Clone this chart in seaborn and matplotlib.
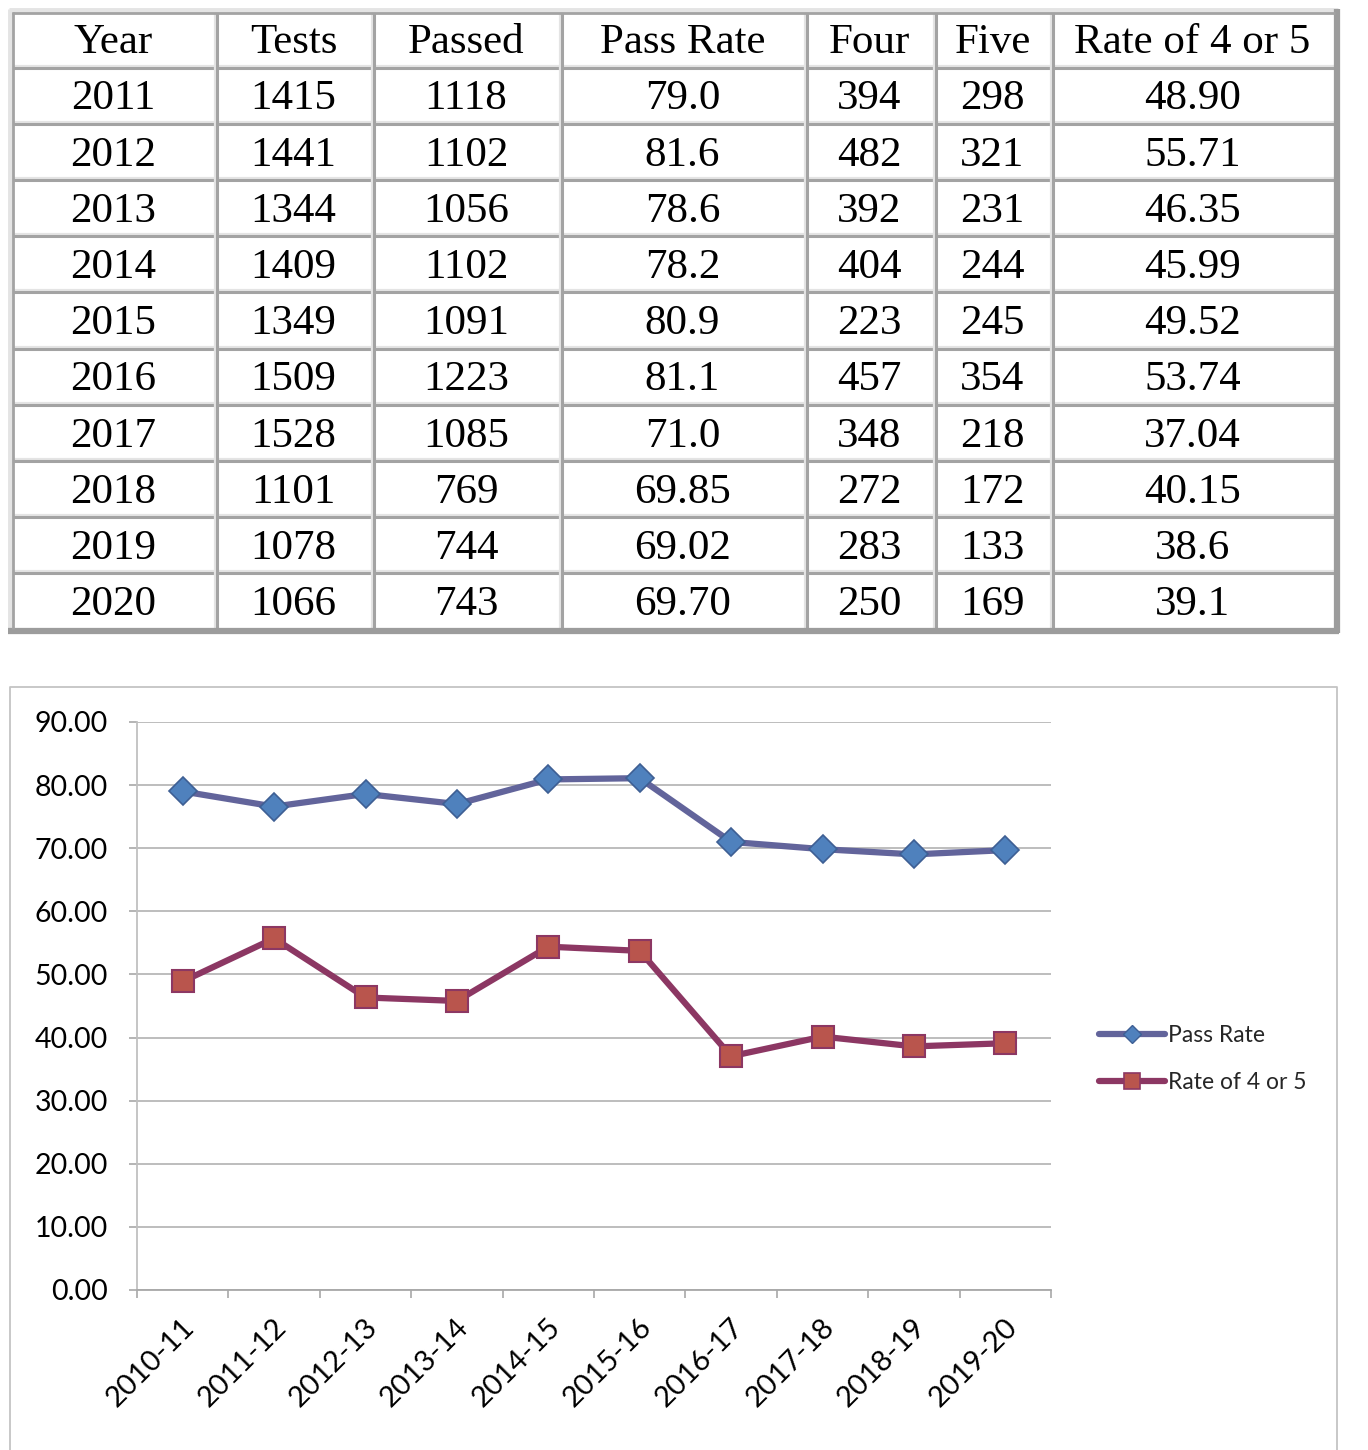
import matplotlib
matplotlib.use("Agg")
import matplotlib.pyplot as plt
import seaborn as sns
from matplotlib.lines import Line2D

# ---------------- data ----------------
columns = ["Year", "Tests", "Passed", "Pass Rate", "Four", "Five", "Rate of 4 or 5"]
years = ["2011", "2012", "2013", "2014", "2015", "2016", "2017", "2018", "2019", "2020"]
tests = ["1415", "1441", "1344", "1409", "1349", "1509", "1528", "1101", "1078", "1066"]
passed = ["1118", "1102", "1056", "1102", "1091", "1223", "1085", "769", "744", "743"]
pass_rate_txt = ["79.0", "81.6", "78.6", "78.2", "80.9", "81.1", "71.0", "69.85", "69.02", "69.70"]
fours = ["394", "482", "392", "404", "223", "457", "348", "272", "283", "250"]
fives = ["298", "321", "231", "244", "245", "354", "218", "172", "133", "169"]
rate45_txt = ["48.90", "55.71", "46.35", "45.99", "49.52", "53.74", "37.04", "40.15", "38.6", "39.1"]

seasons = ["2010-11", "2011-12", "2012-13", "2013-14", "2014-15",
           "2015-16", "2016-17", "2017-18", "2018-19", "2019-20"]
pass_rate = [79.0, 76.6, 78.6, 77.0, 80.9, 81.1, 71.0, 69.85, 69.02, 69.70]
rate45 = [48.90, 55.71, 46.35, 45.8, 54.4, 53.74, 37.04, 40.15, 38.6, 39.1]
y_ticks = [0, 10, 20, 30, 40, 50, 60, 70, 80, 90]

# ---------------- figure ----------------
sns.set_theme(style="white")
plt.rcParams["font.family"] = ["Lato", "DejaVu Sans"]

W, H = 1368, 1450
fig = plt.figure(figsize=(W / 100, H / 100), dpi=100)
fig.patch.set_facecolor("white")

# overlay axes in pixel coordinates (table + chart frame)
ov = fig.add_axes([0, 0, 1, 1])
ov.set_xlim(0, W)
ov.set_ylim(H, 0)
ov.axis("off")
ov.patch.set_alpha(0)

# ---- table ----
col_edges = [12, 216, 373, 561, 806, 935, 1052, 1335]
row_top = 12
row_head_bottom = 67
row_h = 56.2
n_rows = len(years)
row_edges = [row_top, row_head_bottom] + [row_head_bottom + row_h * (k + 1) for k in range(n_rows)]
table_bottom = row_edges[-1]

grid_c = "#a3a3a3"
light_c = "#e4e4e4"
for y in row_edges[1:-1]:
    ov.plot([col_edges[0], col_edges[-1]], [y - 1.5, y - 1.5], color=light_c, lw=1.6, solid_capstyle="butt")
    ov.plot([col_edges[0], col_edges[-1]], [y + 0.5, y + 0.5], color=grid_c, lw=2.2, solid_capstyle="butt")
for x in col_edges[1:-1]:
    ov.plot([x - 1.5, x - 1.5], [row_top, table_bottom], color=light_c, lw=1.6, solid_capstyle="butt")
    ov.plot([x + 0.5, x + 0.5], [row_top, table_bottom], color=grid_c, lw=2.2, solid_capstyle="butt")
ov.plot([col_edges[0] - 3, col_edges[-1] + 3], [row_top - 2, row_top - 2], color=light_c, lw=3.5, solid_capstyle="butt")
ov.plot([col_edges[0] - 2, col_edges[0] - 2], [row_top - 3, table_bottom + 3], color=light_c, lw=3.5, solid_capstyle="butt")
ov.plot([col_edges[0] - 4, col_edges[-1] + 4], [table_bottom + 2, table_bottom + 2], color="#9c9c9c", lw=4.5, solid_capstyle="butt")
ov.plot([col_edges[-1] + 2, col_edges[-1] + 2], [row_top - 3, table_bottom + 4], color="#9c9c9c", lw=4.5, solid_capstyle="butt")
ov.plot([col_edges[0], col_edges[-1]], [row_top + 1, row_top + 1], color=grid_c, lw=2.0, solid_capstyle="butt")
ov.plot([col_edges[0] + 1, col_edges[0] + 1], [row_top, table_bottom], color=grid_c, lw=2.0, solid_capstyle="butt")

serif = ["Liberation Serif", "DejaVu Serif"]
fs_table = 31
col_centers = [(col_edges[i] + col_edges[i + 1]) / 2 for i in range(len(col_edges) - 1)]
for j, name in enumerate(columns):
    ov.text(col_centers[j] - 1, (row_edges[0] + row_edges[1]) / 2 + 3, name, ha="center", va="center",
            fontsize=fs_table, family=serif, color="black")
table_cols = [years, tests, passed, pass_rate_txt, fours, fives, rate45_txt]
for i in range(n_rows):
    yc = (row_edges[i + 1] + row_edges[i + 2]) / 2 + 4
    for j, col in enumerate(table_cols):
        ov.text(col_centers[j] - 1, yc, col[i], ha="center", va="center",
                fontsize=fs_table, family=serif, color="black")

# ---- chart frame ----
ov.plot([10, 10, 1337, 1337], [H + 5, 687, 687, H + 5], color="#c4c4c4", lw=1.3)

# ---- line chart ----
px_l, px_r, px_t, px_b = 137, 1051, 722, 1290
ax = fig.add_axes([px_l / W, 1 - px_b / H, (px_r - px_l) / W, (px_b - px_t) / H])
ax.set_facecolor("none")

pass_line = "#62649b"
pass_face = "#4f81bd"
pass_edge = "#3e5f94"
rate_line = "#8c3763"
rate_face = "#b9554d"
rate_edge = "#8c3763"

sns.lineplot(x=seasons, y=pass_rate, ax=ax, sort=False, color=pass_line, lw=4.5,
             marker="D", markersize=14, markerfacecolor=pass_face,
             markeredgecolor=pass_edge, markeredgewidth=1.2, label="Pass Rate",
             zorder=5)
sns.lineplot(x=seasons, y=rate45, ax=ax, sort=False, color=rate_line, lw=4.5,
             marker="s", markersize=16, markerfacecolor=rate_face,
             markeredgecolor=rate_edge, markeredgewidth=1.5, label="Rate of 4 or 5",
             zorder=5)

ax.set_xlim(-0.5, len(seasons) - 0.5)
ax.set_ylim(0, 90)
ax.set_yticks(y_ticks)
ax.set_yticklabels([f"{v:.2f}" for v in y_ticks], fontsize=20.5, color="black")
ax.yaxis.grid(True, color="#b8b8b8", lw=1.3)
ax.xaxis.grid(False)
ax.set_axisbelow(True)
ax.set_xlabel("")
ax.set_ylabel("")

ax.set_xticks(range(len(seasons)))
ax.set_xticklabels([])
ax.set_xticks([k - 0.5 for k in range(len(seasons) + 1)], minor=True)
ax.tick_params(axis="x", which="major", length=0)
ax.tick_params(axis="x", which="minor", length=6, width=1.2, color="#a8a8a8", direction="out", bottom=True)
ax.tick_params(axis="y", which="major", length=6, width=1.2, color="#a8a8a8", direction="out", left=True, pad=15)

for k, lab in enumerate(seasons):
    ax.annotate(lab, xy=(k, 0), xycoords=("data", "axes fraction"),
                xytext=(-1, -17), textcoords="offset points",
                rotation=45, ha="right", va="top", rotation_mode="anchor",
                fontsize=21, color="black", annotation_clip=False)

for s in ["top", "right"]:
    ax.spines[s].set_visible(False)
ax.spines["left"].set_color("#c0c0c0")
ax.spines["left"].set_linewidth(1.3)
ax.spines["bottom"].set_color("#a8a8a8")
ax.spines["bottom"].set_linewidth(1.3)

handles = [
    Line2D([], [], color=pass_line, lw=4.5, marker="D", markersize=9,
           markerfacecolor=pass_face, markeredgecolor=pass_edge, markeredgewidth=1.0),
    Line2D([], [], color=rate_line, lw=4.5, marker="s", markersize=11,
           markerfacecolor=rate_face, markeredgecolor=rate_edge, markeredgewidth=1.2),
]
ax.legend(handles, ["Pass Rate", "Rate of 4 or 5"], loc="center left",
          bbox_to_anchor=(1099 / W, 1 - 1059 / H), bbox_transform=fig.transFigure,
          frameon=False, fontsize=16.5, handlelength=2.9, handletextpad=0.1,
          labelspacing=1.15, borderpad=0, borderaxespad=0)

fig.savefig("out.png", dpi=100, facecolor="white")
